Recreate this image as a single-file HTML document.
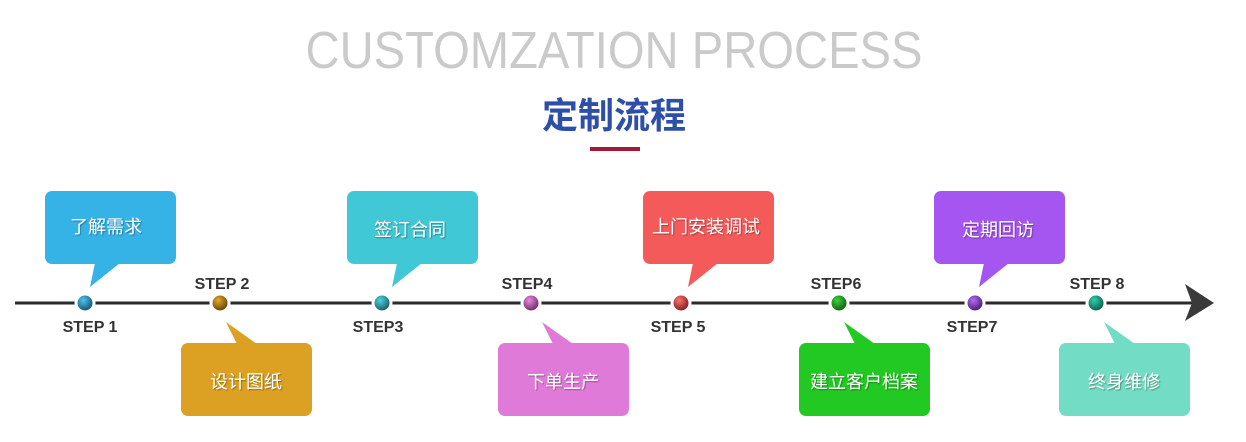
<!DOCTYPE html>
<html><head><meta charset="utf-8"><style>
html,body{margin:0;padding:0;background:#fff;width:1246px;height:442px;overflow:hidden}
svg{display:block}
.lbl{font-family:"Liberation Sans",sans-serif;font-weight:bold;font-size:16px;fill:#333;text-anchor:middle}
.bx{font-family:"Liberation Sans","Noto Sans CJK SC",sans-serif;font-size:18px;fill:#fff;text-anchor:middle}
</style></head><body>
<svg width="1246" height="442" viewBox="0 0 1246 442" xmlns="http://www.w3.org/2000/svg">
<defs>
<filter id="ts"><feDropShadow dx="1" dy="1" stdDeviation="0.6" flood-color="#000" flood-opacity="0.35"/></filter>
<radialGradient id="g1" cx="0.4" cy="0.35" r="0.7"><stop offset="0" stop-color="#4fc3f0"/><stop offset="1" stop-color="#0b3f5c"/></radialGradient>
<radialGradient id="g2" cx="0.4" cy="0.35" r="0.7"><stop offset="0" stop-color="#e6a92a"/><stop offset="1" stop-color="#4e3206"/></radialGradient>
<radialGradient id="g3" cx="0.4" cy="0.35" r="0.7"><stop offset="0" stop-color="#52d2e0"/><stop offset="1" stop-color="#0e4a52"/></radialGradient>
<radialGradient id="g4" cx="0.4" cy="0.35" r="0.7"><stop offset="0" stop-color="#e88ae0"/><stop offset="1" stop-color="#5a1a56"/></radialGradient>
<radialGradient id="g5" cx="0.4" cy="0.35" r="0.7"><stop offset="0" stop-color="#ff7070"/><stop offset="1" stop-color="#6a1010"/></radialGradient>
<radialGradient id="g6" cx="0.4" cy="0.35" r="0.7"><stop offset="0" stop-color="#3ad43a"/><stop offset="1" stop-color="#0a4a0a"/></radialGradient>
<radialGradient id="g7" cx="0.4" cy="0.35" r="0.7"><stop offset="0" stop-color="#b06cf5"/><stop offset="1" stop-color="#3a1060"/></radialGradient>
<radialGradient id="g8" cx="0.4" cy="0.35" r="0.7"><stop offset="0" stop-color="#2ed0a8"/><stop offset="1" stop-color="#064a3a"/></radialGradient>
</defs>
<text x="614" y="68" font-family="Liberation Sans,sans-serif" font-size="52" fill="#cacaca" text-anchor="middle" textLength="617" lengthAdjust="spacingAndGlyphs">CUSTOMZATION PROCESS</text>
<text x="614" y="128" font-family="Liberation Sans,Noto Sans CJK SC,sans-serif" font-size="36" font-weight="bold" fill="#2e4fa8" text-anchor="middle">定制流程</text>
<rect x="590" y="147" width="50" height="4" fill="#a5173a"/>
<line x1="15" y1="303" x2="1192" y2="303" stroke="#2b2b2b" stroke-width="3"/>
<polygon points="1185,284 1214,303 1185,321 1192,303" fill="#3a3a3a"/>
<!-- top boxes -->
<g>
<rect x="45" y="191" width="131" height="73" rx="7" fill="#35b3e6"/><polygon points="95,263 120,263 90,287" fill="#35b3e6"/>
<text class="bx" x="106" y="233" filter="url(#ts)">了解需求</text>
<rect x="347" y="191" width="131" height="73" rx="7" fill="#40c8d6"/><polygon points="397,263 422,263 392,287" fill="#40c8d6"/>
<text class="bx" x="410" y="236" filter="url(#ts)">签订合同</text>
<rect x="643" y="191" width="131" height="73" rx="7" fill="#f55a5a"/><polygon points="693,263 718,263 688,287" fill="#f55a5a"/>
<text class="bx" x="706" y="233" filter="url(#ts)">上门安装调试</text>
<rect x="934" y="191" width="131" height="73" rx="7" fill="#a555f0"/><polygon points="984,263 1009,263 979,287" fill="#a555f0"/>
<text class="bx" x="998" y="236" filter="url(#ts)">定期回访</text>
</g>
<!-- bottom boxes -->
<g>
<rect x="181" y="343" width="131" height="73" rx="7" fill="#dca022"/><polygon points="226,322 237,344 257,344" fill="#dca022"/>
<text class="bx" x="246" y="388" filter="url(#ts)">设计图纸</text>
<rect x="498" y="343" width="131" height="73" rx="7" fill="#e07ad8"/><polygon points="542,322 553,344 573,344" fill="#e07ad8"/>
<text class="bx" x="563" y="388" filter="url(#ts)">下单生产</text>
<rect x="799" y="343" width="131" height="73" rx="7" fill="#22c922"/><polygon points="844,322 855,344 875,344" fill="#22c922"/>
<text class="bx" x="864" y="388" filter="url(#ts)">建立客户档案</text>
<rect x="1059" y="343" width="131" height="73" rx="7" fill="#72dcc4"/><polygon points="1104,322 1115,344 1135,344" fill="#72dcc4"/>
<text class="bx" x="1124" y="388" filter="url(#ts)">终身维修</text>
</g>
<!-- dots -->
<g stroke="#fff" stroke-width="3">
<circle cx="85" cy="303" r="9" fill="url(#g1)"/>
<circle cx="220" cy="303" r="9" fill="url(#g2)"/>
<circle cx="382" cy="303" r="9" fill="url(#g3)"/>
<circle cx="531" cy="303" r="9" fill="url(#g4)"/>
<circle cx="681" cy="303" r="9" fill="url(#g5)"/>
<circle cx="839" cy="303" r="9" fill="url(#g6)"/>
<circle cx="975" cy="303" r="9" fill="url(#g7)"/>
<circle cx="1096" cy="303" r="9" fill="url(#g8)"/>
</g>
<text class="lbl" x="90" y="332">STEP 1</text>
<text class="lbl" x="222" y="289">STEP 2</text>
<text class="lbl" x="378" y="332">STEP3</text>
<text class="lbl" x="527" y="289">STEP4</text>
<text class="lbl" x="678" y="332">STEP 5</text>
<text class="lbl" x="836" y="289">STEP6</text>
<text class="lbl" x="972" y="332">STEP7</text>
<text class="lbl" x="1097" y="289">STEP 8</text>
</svg>
</body></html>
